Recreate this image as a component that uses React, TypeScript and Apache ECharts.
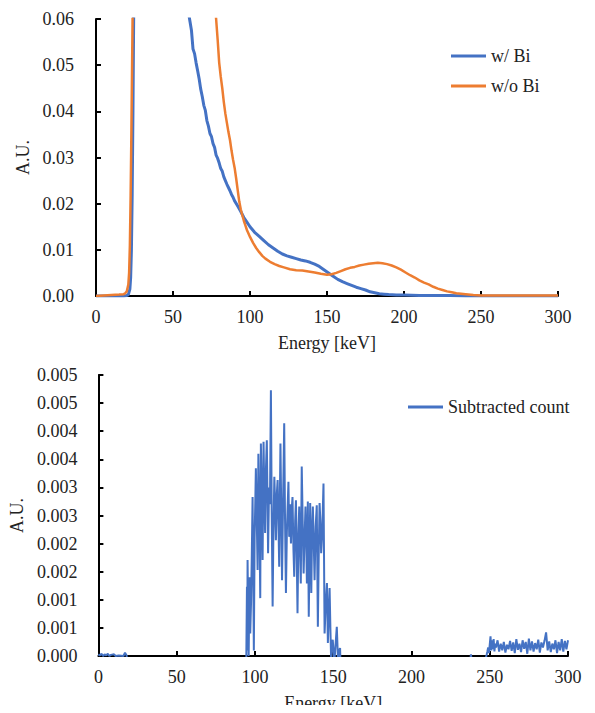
import React, { useEffect, useRef } from "react";
import * as echarts from "echarts";

// Top panel: w/ Bi
const blueE = [0, 5, 10, 15, 18, 20, 21, 22, 22.5, 23, 23.5, 24, 24.5, 25, 26, 30, 40, 50, 55, 58, 60, 61, 62, 63, 64, 65, 66, 67, 68, 69, 70, 71, 72, 73, 74, 75, 76, 77, 78, 79, 80, 81, 82, 83, 84, 85, 86, 87, 88, 89, 90, 92, 94, 96, 98, 100, 103, 106, 109, 112, 115, 118, 121, 124, 127, 130, 133, 136, 139, 142, 145, 148, 151, 154, 157, 160, 163, 166, 169, 172, 175, 178, 181, 184, 187, 190, 195, 200, 210, 220, 230, 240, 250, 260, 270, 280, 290, 300];
const blueV = [0, 0, 0, 0, 0, 0.0001, 0.0003, 0.0015, 0.004, 0.01, 0.022, 0.04, 0.062, 0.09, 0.14, 0.2, 0.2, 0.2, 0.12, 0.066, 0.0615, 0.0595, 0.0575, 0.0535, 0.0525, 0.0505, 0.0488, 0.047, 0.0448, 0.0432, 0.0413, 0.0402, 0.038, 0.0368, 0.0352, 0.0345, 0.033, 0.0322, 0.0305, 0.0298, 0.0288, 0.0276, 0.027, 0.0258, 0.025, 0.0242, 0.0235, 0.0228, 0.022, 0.0214, 0.0206, 0.0195, 0.0183, 0.017, 0.016, 0.015, 0.0138, 0.0129, 0.012, 0.0111, 0.0104, 0.0097, 0.0091, 0.0087, 0.0084, 0.0081, 0.0078, 0.0076, 0.0073, 0.0069, 0.0064, 0.0057, 0.005, 0.0043, 0.0036, 0.0031, 0.0027, 0.0023, 0.0019, 0.0016, 0.0013, 0.0009, 0.0007, 0.0005, 0.0004, 0.0003, 0.0002, 0.0002, 0.0001, 0.0001, 0.0001, 0, 0, 0, 0, 0, 0, 0];

// Top panel: w/o Bi
const orangeE = [0, 5, 10, 15, 18, 19, 20, 21, 21.5, 22, 22.5, 23, 23.5, 24, 25, 26, 30, 50, 70, 75, 77, 78, 79, 80, 81, 82, 83, 84, 85, 86, 87, 88, 89, 90, 91, 92, 93, 94, 95, 96, 97, 98, 100, 102, 104, 106, 108, 110, 113, 116, 119, 122, 126, 130, 134, 138, 142, 146, 150, 153, 156, 159, 162, 165, 168, 171, 174, 177, 180, 183, 186, 189, 192, 195, 198, 201, 204, 207, 210, 213, 216, 219, 222, 225, 228, 231, 234, 237, 240, 245, 250, 260, 270, 280, 290, 300];
const orangeV = [0, 0.0001, 0.0002, 0.0003, 0.0004, 0.0006, 0.001, 0.0025, 0.005, 0.011, 0.022, 0.036, 0.052, 0.068, 0.1, 0.15, 0.25, 0.25, 0.25, 0.075, 0.064, 0.06, 0.0555, 0.0505, 0.0475, 0.045, 0.042, 0.0395, 0.0375, 0.0355, 0.0338, 0.0315, 0.0295, 0.0278, 0.0255, 0.023, 0.0205, 0.0188, 0.0175, 0.0163, 0.0153, 0.0143, 0.0128, 0.0115, 0.0104, 0.0095, 0.0087, 0.0081, 0.0074, 0.0069, 0.0065, 0.0062, 0.0058, 0.0056, 0.0055, 0.0053, 0.0051, 0.0048, 0.0046, 0.0047, 0.005, 0.0054, 0.0058, 0.0061, 0.0063, 0.0066, 0.0068, 0.007, 0.0071, 0.0072, 0.0071, 0.0069, 0.0066, 0.0062, 0.0057, 0.0051, 0.0045, 0.004, 0.0034, 0.0029, 0.0025, 0.002, 0.0016, 0.0013, 0.001, 0.0008, 0.0006, 0.0005, 0.0004, 0.0002, 0.0001, 0.0001, 0.0001, 0.0001, 0.0001, 0.0001];

// Bottom panel: Subtracted count
const subE = [0, 1, 2, 3, 4, 5, 6, 7, 8, 10, 11, 13, 16, 17, 18, 19, 20, 25, 60, 80, 92, 94.4, 94.9, 95.1, 95.3, 95.6, 96.0, 96.5, 97.0, 97.5, 98.0, 98.5, 99.0, 99.3, 99.8, 100.2, 100.6, 101.2, 101.7, 102.2, 102.8, 103.4, 103.8, 104.3, 104.9, 105.5, 106.0, 106.5, 107.0, 107.6, 108.0, 108.4, 109.0, 109.6, 110.2, 110.7, 111.3, 111.8, 112.4, 112.9, 113.4, 114.0, 114.5, 115.0, 115.5, 116.0, 116.3, 116.8, 117.3, 118.0, 118.7, 119.2, 119.8, 120.4, 120.9, 121.4, 121.9, 122.5, 123.0, 123.5, 124.0, 124.6, 125.1, 125.7, 126.2, 126.7, 127.2, 127.8, 128.3, 128.8, 129.3, 129.9, 130.5, 131.1, 131.7, 132.3, 132.8, 133.2, 133.8, 134.4, 134.9, 135.3, 135.7, 136.0, 136.5, 137.0, 137.5, 138.1, 138.8, 139.5, 140.2, 140.8, 141.3, 141.8, 142.3, 143.0, 143.8, 144.5, 145.2, 146.0, 146.6, 147.2, 147.7, 148.2, 148.7, 149.2, 149.7, 150.2, 150.8, 151.5, 152.3, 153.1, 153.6, 154.4, 155.0, 156, 170, 200, 236, 237.5, 238.0, 238.5, 240, 246, 248, 248.5, 249, 249.5, 250, 250.5, 251, 251.5, 252, 252.5, 253, 253.5, 254, 255, 256, 257, 258, 259, 260, 261, 262, 263, 264, 265, 266, 267, 268, 269, 270, 271, 272, 273, 274, 275, 276, 277, 278, 279, 280, 281, 282, 283, 284, 285, 286, 287, 288, 289, 290, 291, 292, 293, 294, 295, 296, 297, 298, 299, 300];
const subV = [0.00003, 0.00001, 0.00004, 0, 0.00003, 0.00001, 0.00004, 0, 0.00002, 0.00003, 0, 0.00001, 0, 0.00006, 0.00001, -0.0002, -0.003, -0.02, -0.02, -0.02, -0.004, -0.0003, 0.00123, 0.0001, 0.00171, 0.0009, 0, 0.0014, 0.0004, 0.00094, 0.0018, 0.00283, 0.0012, 0.0001, 0.0021, 0.0027, 0.00334, 0.0024, 0.00153, 0.0036, 0.0025, 0.00103, 0.00378, 0.003, 0.00171, 0.00381, 0.0029, 0.00219, 0.0033, 0.00384, 0.0028, 0.00183, 0.003, 0.0027, 0.00473, 0.0026, 0.00088, 0.0022, 0.00319, 0.0027, 0.00206, 0.0029, 0.00313, 0.0024, 0.00159, 0.003, 0.00378, 0.0026, 0.00135, 0.0028, 0.00414, 0.0025, 0.00112, 0.0022, 0.00266, 0.0031, 0.00212, 0.0027, 0.002, 0.0026, 0.00283, 0.0019, 0.00141, 0.0024, 0.00277, 0.0018, 0.00076, 0.0022, 0.00266, 0.0019, 0.00129, 0.00337, 0.0024, 0.00147, 0.0021, 0.00266, 0.002, 0.00129, 0.00275, 0.0007, 0.0019, 0.00272, 0.0018, 0.00112, 0.0022, 0.00266, 0.0021, 0.00135, 0.0023, 0.00268, 0.00052, 0.0019, 0.00272, 0.0024, 0.00183, 0.0022, 0.00307, 0.0004, 0.0009, 0.0013, 0.00023, 0.0008, 0.00121, 0.0005, -0.0001, 0.0002, 0.00029, 0.0001, -0.0001, 0.0002, 0.00052, -0.0001, 0.0001, 0.00014, -0.0005, -0.003, -0.005, -0.005, -0.0005, -0.0001, 0.00003, -0.0001, -0.0004, -0.0002, 0.00002, 0.00008, 0.00015, 0.00005, 0.0002, 0.00035, 0.0001, 0.00028, 0.00012, 0.0003, 0.00008, 0.00022, 0.00015, 0.00028, 0.00008, 0.00022, 0.0001, 0.00025, 0.00006, 0.0002, 0.00012, 0.00027, 0.00009, 0.00024, 0.00005, 0.0003, 0.00011, 0.00022, 0.00007, 0.00028, 0.00013, 0.00025, 0.00004, 0.00031, 0.0001, 0.00026, 0.00008, 0.00023, 0.00012, 0.00029, 0.00006, 0.00024, 0.00015, 0.00027, 0.00042, 0.0001, 0.00026, 0.00007, 0.00022, 0.00012, 0.00028, 0.00005, 0.00025, 0.0001, 0.0003, 0.00008, 0.00027, 0.00012, 0.00028];

const bottomTickLabels = ["0.000", "0.001", "0.001", "0.002", "0.002", "0.003", "0.003", "0.004", "0.004", "0.005", "0.005"];

const zip = (xs: number[], ys: number[]) => xs.map((x, i) => [x, ys[i]]);

const FONT = "Liberation Serif";
const BLUE = "#4472C4";
const ORANGE = "#ED7D31";

export default function App() {
  const ref = useRef<HTMLDivElement>(null);
  useEffect(() => {
    if (!ref.current) return;
    const chart = echarts.init(ref.current, undefined, { renderer: "svg" });
    const axisCommon = {
      axisLine: { show: true, lineStyle: { color: "#000", width: 2 } },
      axisTick: { show: true, inside: true, length: 5, lineStyle: { color: "#000", width: 2 } },
      splitLine: { show: false },
    };
    chart.setOption({
      animation: false,
      legend: [
        {
          data: ["w/ Bi", "w/o Bi"],
          orient: "vertical",
          left: 446,
          top: 42,
          itemGap: 12,
          itemWidth: 35,
          itemHeight: 3,
          icon: "rect",
          textStyle: { fontFamily: FONT, fontSize: 18, color: "#222" },
        },
        {
          data: ["Subtracted count"],
          orient: "vertical",
          left: 403,
          top: 393,
          itemWidth: 35,
          itemHeight: 3,
          icon: "rect",
          textStyle: { fontFamily: FONT, fontSize: 18, color: "#222" },
        },
      ],
      grid: [
        { left: 96, width: 462, top: 19, height: 277 },
        { left: 97, width: 471, top: 375, height: 281 },
      ],
      xAxis: [0, 1].map((i) => ({
        type: "value",
        gridIndex: i,
        min: 0,
        max: 300,
        interval: 50,
        name: "Energy [keV]",
        nameLocation: "middle",
        nameGap: 38,
        nameTextStyle: { fontFamily: FONT, fontSize: 18, color: "#222" },
        axisLabel: { fontFamily: FONT, fontSize: 18, color: "#222", margin: 12 },
        ...axisCommon,
      })),
      yAxis: [
        {
          type: "value",
          gridIndex: 0,
          min: 0,
          max: 0.06,
          interval: 0.01,
          name: "A.U.",
          nameLocation: "middle",
          nameGap: 48,
          nameTextStyle: { fontFamily: FONT, fontSize: 18, color: "#222" },
          axisLabel: { fontFamily: FONT, fontSize: 18, color: "#222", margin: 22, formatter: (v: number) => v.toFixed(2) },
          ...axisCommon,
        },
        {
          type: "value",
          gridIndex: 1,
          min: 0,
          max: 0.005,
          interval: 0.0005,
          name: "A.U.",
          nameLocation: "middle",
          nameGap: 59,
          nameTextStyle: { fontFamily: FONT, fontSize: 18, color: "#222" },
          axisLabel: {
            fontFamily: FONT,
            fontSize: 18,
            color: "#222",
            margin: 21,
            formatter: (v: number) => bottomTickLabels[Math.round(v / 0.0005)] ?? "",
          },
          ...axisCommon,
        },
      ],
      series: [
        {
          name: "w/ Bi",
          type: "line",
          xAxisIndex: 0,
          yAxisIndex: 0,
          data: zip(blueE, blueV),
          showSymbol: false,
          symbol: "none",
          clip: true,
          color: BLUE,
          lineStyle: { color: BLUE, width: 3 },
          z: 3,
        },
        {
          name: "w/o Bi",
          type: "line",
          xAxisIndex: 0,
          yAxisIndex: 0,
          data: zip(orangeE, orangeV),
          showSymbol: false,
          symbol: "none",
          clip: true,
          color: ORANGE,
          lineStyle: { color: ORANGE, width: 2.5 },
          z: 4,
        },
        {
          name: "Subtracted count",
          type: "line",
          xAxisIndex: 1,
          yAxisIndex: 1,
          data: zip(subE, subV),
          showSymbol: false,
          symbol: "none",
          clip: true,
          color: BLUE,
          lineStyle: { color: BLUE, width: 2 },
        },
      ],
    });
    return () => chart.dispose();
  }, []);
  return <div ref={ref} style={{ width: 595, height: 713, margin: -8 }} />;
}
